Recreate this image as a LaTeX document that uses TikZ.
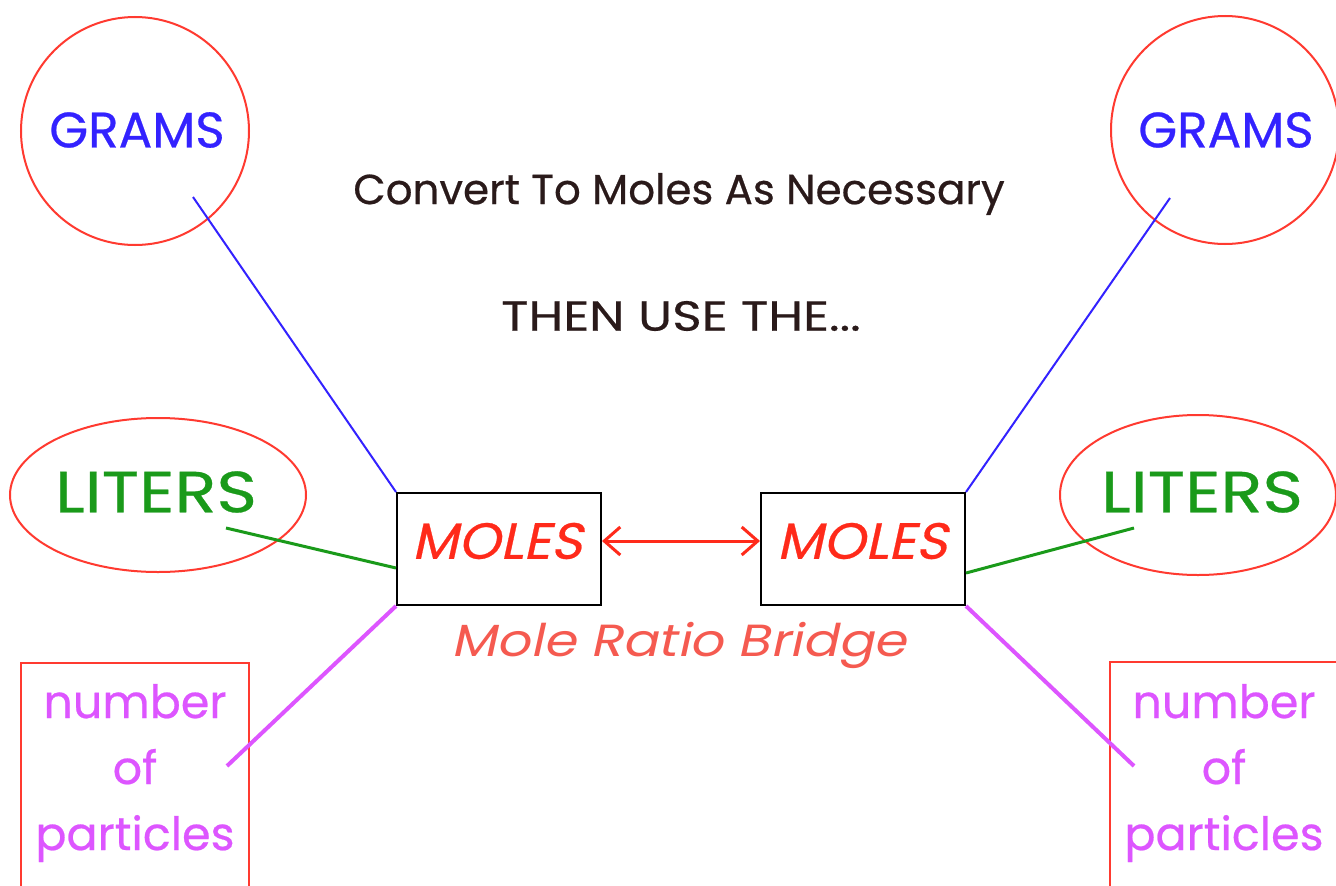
\documentclass[tikz,border=0pt]{standalone}
\usepackage{fontspec}
\setmainfont{Poppins}[FakeBold=0.5]
\newfontfamily\slfont{Poppins}[FakeSlant=0.22,FakeStretch=1.05,FakeBold=0.5]
\newfontfamily\brfont{Poppins}[FakeSlant=0.22,FakeStretch=1.17]
\newfontfamily\litfont{Poppins}[FakeStretch=1.19,FakeBold=0.5]
\newfontfamily\thenfont{Poppins}[FakeStretch=1.2,FakeBold=0.5]
\usetikzlibrary{arrows.meta,shapes.geometric}
\definecolor{ringred}{HTML}{FF3A30}
\definecolor{gblue}{HTML}{3322FF}
\definecolor{lgreen}{HTML}{1A9A1A}
\definecolor{mred}{HTML}{FF2A1A}
\definecolor{pmag}{HTML}{DD55FF}
\definecolor{bridge}{HTML}{F55A50}
\definecolor{dtext}{HTML}{2A1A1A}
\tikzset{
  ring/.style={draw=ringred, line width=2pt, circle, minimum size=228pt, inner sep=0pt},
  oval/.style={draw=ringred, line width=2pt, ellipse, inner sep=0pt},
  pbox/.style={draw=ringred, line width=2pt, rectangle, minimum width=228pt, minimum height=250pt, inner sep=0pt},
  molebox/.style={draw=black, line width=2pt, rectangle, minimum width=204pt, minimum height=112pt, inner sep=0pt},
  gramstxt/.style={text=gblue, font=\fontsize{50}{54}\selectfont},
  litertxt/.style={text=lgreen, font=\litfont\fontsize{58}{62}\selectfont},
  moletxt/.style={text=mred, font=\slfont\fontsize{51}{54}\selectfont},
  parttxt/.style={text=pmag, align=center, font=\fontsize{46}{66}\selectfont},
  headtxt/.style={text=dtext, font=\fontsize{42}{46}\selectfont},
  bluelink/.style={draw=gblue, line width=2pt},
  greenlink/.style={draw=lgreen, line width=3pt},
  maglink/.style={draw=pmag, line width=4pt},
  bridgearrow/.style={draw=mred, line width=3pt, {Straight Barb[length=16pt,width=28pt,line width=3pt]}-{Straight Barb[length=16pt,width=28pt,line width=3pt]}}
}
\begin{document}
\begin{tikzpicture}[x=1pt,y=-1pt]
\useasboundingbox (0,0) rectangle (1336,886);
\clip (0,0) rectangle (1336,886);
\fill[white] (0,0) rectangle (1336,886);

% GRAMS circles
\node[ring] (gramsL) at (135,131) {};
\node[gramstxt] (gramsLt) at (137,130) {GRAMS};
\node[ring] (gramsR) at (1225,130) {};
\node[gramstxt] (gramsRt) at (1226,130) {GRAMS};

% LITERS ellipses
\node[oval, minimum width=296pt, minimum height=154pt] (litL) at (158,495) {};
\node[litertxt] (litLt) at (156,492) {LITERS};
\node[oval, minimum width=276pt, minimum height=160pt] (litR) at (1198,495) {};
\node[litertxt] (litRt) at (1202,492) {LITERS};

% particles boxes
\node[pbox] (partL) at (135,788) {};
\node[parttxt] (partLt) at (135,773) {number\\of\\particles};
\node[pbox] (partR) at (1224,787) {};
\node[parttxt] (partRt) at (1224,773) {number\\of\\particles};

% MOLES boxes
\node[molebox] (molesL) at (499,549) {};
\node[moletxt] (molesLt) at (497,541) {MOLES};
\node[molebox] (molesR) at (863,549) {};
\node[moletxt] (molesRt) at (862,541) {MOLES};

% headings
\node[headtxt] (head1) at (679,194) {Convert To Moles As Necessary};
\node[headtxt, font=\thenfont\fontsize{42}{46}\selectfont] (head2) at (681,316) {THEN USE THE...};
\node[text=bridge, font=\brfont\fontsize{45}{48}\selectfont] (bridge) at (679,645) {Mole Ratio Bridge};

% free ends of connectors
\coordinate (gLend) at (193,197);
\coordinate (gRend) at (1170,198);
\coordinate (lLend) at (226,528);
\coordinate (lRend) at (1134,528);
\coordinate (pLend) at (227,766);
\coordinate (pRend) at (1134,766);

% connectors
\draw[bluelink] (gLend) -- (molesL.north west);
\draw[bluelink] (gRend) -- (molesR.north east);
\draw[greenlink] (lLend) -- ([yshift=-19pt]molesL.west);
\draw[greenlink] (lRend) -- ([yshift=-24pt]molesR.east);
\draw[maglink] (pLend) -- (molesL.south west);
\draw[maglink] (pRend) -- (molesR.south east);
\draw[bridgearrow] ([yshift=8pt]molesL.east) -- ([yshift=8pt]molesR.west);
\end{tikzpicture}
\end{document}
